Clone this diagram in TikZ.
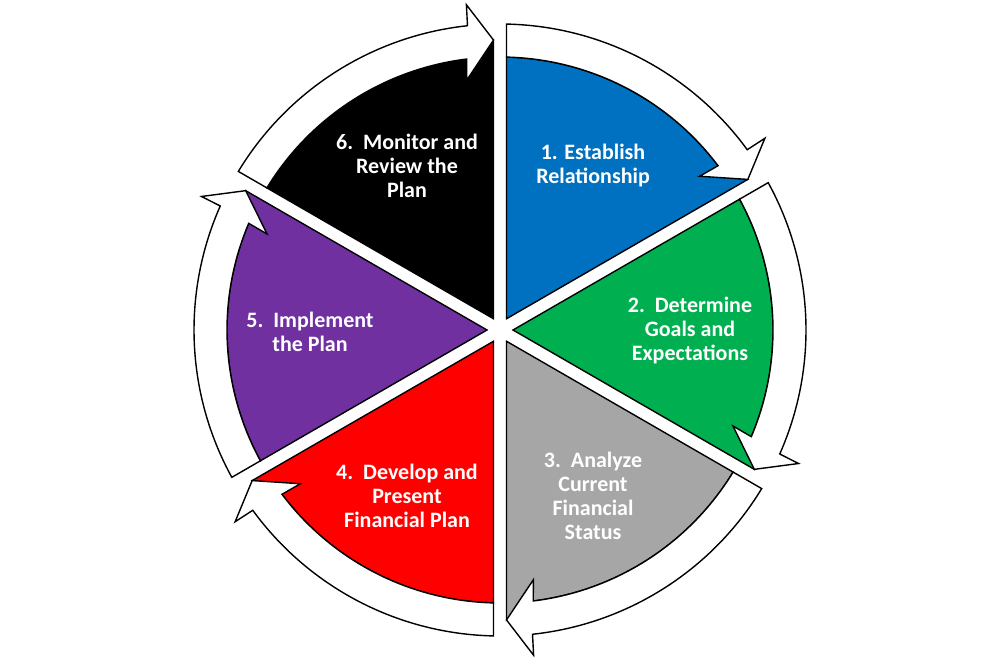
\documentclass[tikz,border=0pt]{standalone}
\usepackage{fontspec}
\setmainfont{Carlito}
\definecolor{cblue}{HTML}{0070C0}
\definecolor{cgreen}{HTML}{00B050}
\definecolor{cgray}{HTML}{A6A6A6}
\definecolor{cred}{HTML}{FF0000}
\definecolor{cpurple}{HTML}{7030A0}
\definecolor{cblack}{HTML}{000000}
\tikzset{
  wedge/.style={draw=black, line width=1.4pt, line join=miter},
  bandarrow/.style={draw=black, fill=white, line width=1.4pt, line join=miter},
  label/.style={text=white, font=\bfseries\fontsize{22}{24}\selectfont, align=center, inner sep=0pt}
}
\begin{document}
\begin{tikzpicture}[x=1pt,y=1pt]
\useasboundingbox (0,0) rectangle (1000,667);
\fill[white] (0,0) rectangle (1000,667);
\begin{scope}[shift={(500,337)}]
\foreach \ts/\col in {90/cblue, 30/cgreen, -30/cgray, -90/cred, -150/cpurple, 150/cblack}{
  \pgfmathsetmacro\te{\ts-60}
  \pgfmathsetmacro\sa{\ts-asin(6.5/273)}
  \pgfmathsetmacro\sb{\ts-asin(6.5/306)}
  \pgfmathsetmacro\tip{\te+asin(6.5/290)}
  % coloured wedge
  \fill[\col] ({\ts-30}:13pt) -- (\sa:273pt) arc[start angle=\sa, end angle={\te+7}, radius=273pt]
     -- (\tip:290pt) -- cycle;
  \draw[wedge] ({\ts-30}:13pt) -- (\sa:273pt) arc[start angle=\sa, end angle={\te+7}, radius=273pt]
     -- (\tip:290pt) -- cycle;
  % white curved arrow
  \draw[bandarrow] (\sa:273pt) -- (\sb:306pt)
     arc[start angle=\sb, end angle={\te+6.1}, radius=306pt]
     -- ({\te+5.9}:327pt) -- (\tip:290pt) -- ({\te+7.6}:252pt) -- ({\te+7}:273pt)
     arc[start angle={\te+7}, end angle=\sa, radius=273pt] -- cycle;
}
\end{scope}
\node[label] (t1) at (593,501) {1. Establish\\Relationship};
\node[label] (t2) at (690,336) {2.\ \ Determine\\Goals and\\Expectations};
\node[label] (t3) at (593,171) {3.\ \ Analyze\\Current\\Financial\\Status};
\node[label] (t4) at (407,171) {4.\ \ Develop and\\Present\\Financial Plan};
\node[label] (t5) at (310,335.5) {5.\ \ Implement\\the Plan};
\node[label] (t6) at (407,501) {6.\ \ Monitor and\\Review the\\Plan};
\end{tikzpicture}
\end{document}
